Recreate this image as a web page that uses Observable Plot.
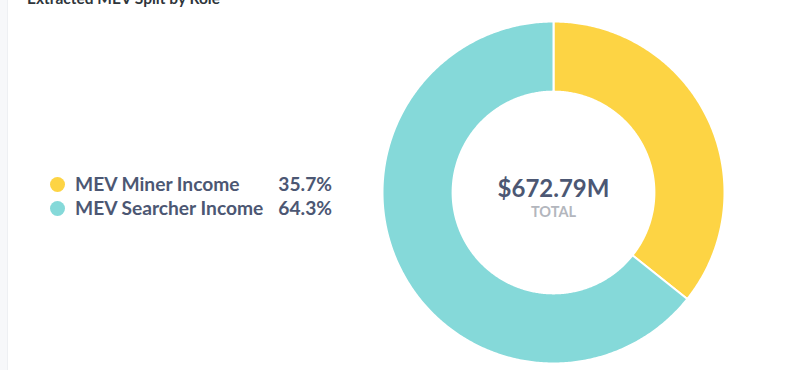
<!DOCTYPE html>
<html>
<head>
<meta charset="utf-8">
<script src="https://cdn.jsdelivr.net/npm/d3@7"></script>
<script src="https://cdn.jsdelivr.net/npm/@observablehq/plot@0.6"></script>
<style>
  html, body { margin: 0; padding: 0; background: #fff; }
  body { width: 800px; height: 370px; overflow: hidden; position: relative; font-family: Lato, "Noto Sans", sans-serif; }
  #strip { position: absolute; left: 0; top: 0; width: 7px; height: 370px; background: #f7f8fa; border-right: 1px solid #eef0f3; }
  #title { position: absolute; left: 27px; top: -9px; font-size: 15.5px; line-height: 15px; font-weight: 700; color: #2e353b; white-space: nowrap; }
  #chart { position: absolute; left: 0; top: 0; }
  #legend { position: absolute; left: 50px; top: 172px; display: grid; grid-template-columns: 215px 67px; row-gap: 0; }
  .lab { display: flex; align-items: center; font-size: 19.2px; line-height: 24px; font-weight: 700; color: #4c5773; white-space: nowrap; }
  .dot { width: 15px; height: 15px; border-radius: 50%; margin-right: 10px; flex: none; }
  .pct { font-size: 19.2px; line-height: 24px; font-weight: 700; color: #4c5773; text-align: right; }
</style>
</head>
<body>
<div id="strip"></div>
<div id="title">Extracted MEV Split by Role</div>
<div id="chart"></div>
<div id="legend"></div>
<script>
// ---- data ----
const categories = ["MEV Miner Income", "MEV Searcher Income"];
const shares = [35.7, 64.3];            // percent of total
const colors = ["#fdd444", "#85d9d9"];
const totalValue = 672.79;               // $M
const totalLabel = "TOTAL";

// ---- geometry (unit outer radius) ----
const innerRatio = 0.59;
const pie = d3.pie().sort(null).value(d => d.share);
const slices = pie(categories.map((c, i) => ({key: c, share: shares[i], color: colors[i]})));

const pts = [];
for (const s of slices) {
  const n = Math.max(8, Math.ceil((s.endAngle - s.startAngle) / 0.01));
  const ring = [];
  for (let k = 0; k <= n; k++) {
    const a = s.startAngle + (s.endAngle - s.startAngle) * k / n;
    ring.push([Math.sin(a), Math.cos(a)]);
  }
  for (let k = n; k >= 0; k--) {
    const a = s.startAngle + (s.endAngle - s.startAngle) * k / n;
    ring.push([innerRatio * Math.sin(a), innerRatio * Math.cos(a)]);
  }
  ring.push(ring[0]);
  for (const [x, y] of ring) pts.push({key: s.data.key, color: s.data.color, x, y});
}

// scale domains in outer-radius units (center at 553,192, radius 171 px)
const W = 800, H = 370, cx = 553, cy = 192, R = 171;
const chart = Plot.plot({
  width: W, height: H,
  margin: 0,
  style: {fontFamily: "Lato, 'Noto Sans', sans-serif", background: "transparent"},
  x: {domain: [-cx / R, (W - cx) / R], axis: null},
  y: {domain: [-(H - cy) / R, cy / R], axis: null},
  color: {type: "identity"},
  marks: [
    Plot.line(pts, {x: "x", y: "y", z: "key", fill: "color", stroke: "white", strokeWidth: 2, curve: "linear"}),
    Plot.text([d3.format("$,.2f")(totalValue) + "M"], {x: () => 0, y: () => 0, text: d => d, dy: -3, fontSize: 24, fontWeight: 700, fill: "#4c5773", textAnchor: "middle"}),
    Plot.text([totalLabel], {x: () => 0, y: () => 0, text: d => d, dy: 20, fontSize: 14.5, fontWeight: 700, fill: "#b3b6bd", textAnchor: "middle"})
  ]
});
document.getElementById("chart").appendChild(chart);

// legend
const lg = document.getElementById("legend");
categories.forEach((c, i) => {
  const lab = document.createElement("div");
  lab.className = "lab";
  lab.innerHTML = `<span class="dot" style="background:${colors[i]}"></span><span>${c}</span>`;
  const pct = document.createElement("div");
  pct.className = "pct";
  pct.textContent = shares[i].toFixed(1) + "%";
  lg.appendChild(lab);
  lg.appendChild(pct);
});
</script>
</body>
</html>
